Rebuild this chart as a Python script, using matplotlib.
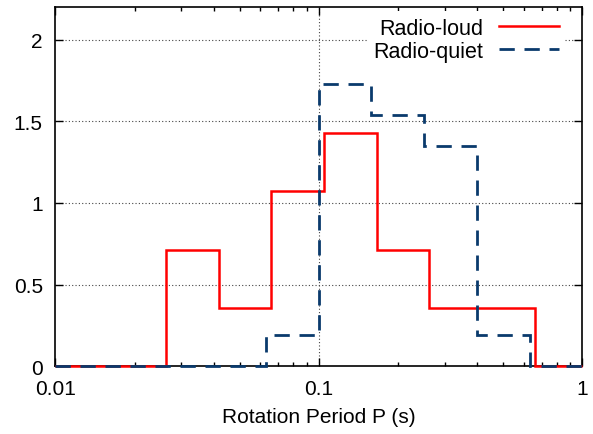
import numpy as np
import matplotlib
matplotlib.use('Agg')
import matplotlib.pyplot as plt
from matplotlib.ticker import LogLocator, FixedLocator, NullFormatter

plt.rcParams['font.family'] = ['Liberation Sans', 'DejaVu Sans']
plt.rcParams['font.size'] = 15

# bin edges (s) and histogram heights
bordes_loud = [0.01, 0.0263, 0.0417, 0.0661, 0.1047, 0.166, 0.263, 0.417, 0.661, 1.0]
alturas_loud = [0, 0.714, 0.357, 1.071, 1.429, 0.714, 0.357, 0.357, 0]

bordes_quiet = [0.01, 0.0631, 0.1, 0.158, 0.251, 0.398, 0.631, 1.0]
alturas_quiet = [0, 0.192, 1.731, 1.538, 1.346, 0.192, 0]

x_ticks = [0.01, 0.1, 1]
x_labels = ['0.01', '0.1', '1']
y_ticks = [0, 0.5, 1, 1.5, 2]
y_labels = ['0', '0.5', '1', '1.5', '2']

fig = plt.figure(figsize=(5.93, 4.35), dpi=100)
ax = fig.add_axes([0.0933, 0.156, 0.8887, 0.8256])

ax.set_xscale('log')
ax.set_xlim(0.01, 1)
ax.set_ylim(0, 2.2)

# grid (dotted, only at major ticks)
for y in y_ticks[1:]:
    ax.axhline(y, color='#444444', lw=0.8, ls=(0, (1, 2)), zorder=0)
ax.axvline(0.1, color='#444444', lw=0.8, ls=(0, (1, 2)), zorder=0)

ax.stairs(alturas_loud, bordes_loud, color='#ff0000', lw=1.8,
          label='Radio-loud', zorder=3, clip_on=False)
ax.stairs(alturas_quiet, bordes_quiet, color='#0a3a6c', lw=2,
          ls=(0, (5.5, 3.5)), label='Radio-quiet', zorder=3, clip_on=False)

ax.xaxis.set_major_locator(FixedLocator(x_ticks))
ax.set_xticklabels(x_labels)
ax.xaxis.set_minor_locator(LogLocator(base=10, subs=np.arange(2, 10)))
ax.xaxis.set_minor_formatter(NullFormatter())
ax.set_yticks(y_ticks)
ax.set_yticklabels(y_labels)

ax.tick_params(which='both', direction='in', top=True, right=True, width=1)
ax.tick_params(which='major', length=6)
ax.tick_params(which='minor', length=3)
ax.tick_params(axis='x', pad=9)
ax.tick_params(axis='y', pad=9)
for s in ax.spines.values():
    s.set_linewidth(1.2)

ax.set_xlabel('Rotation Period P (s)', labelpad=7)

leg = ax.legend(loc='upper right', bbox_to_anchor=(0.976, 1.0), markerfirst=False,
                handlelength=2.8, handletextpad=0.7, labelspacing=0.1,
                borderaxespad=0.2, borderpad=0.3, frameon=True, fancybox=False,
                fontsize=15.5)
leg.get_frame().set_facecolor('white')
leg.get_frame().set_edgecolor('none')
leg.get_frame().set_alpha(1)

fig.savefig('out.png', dpi=100)
